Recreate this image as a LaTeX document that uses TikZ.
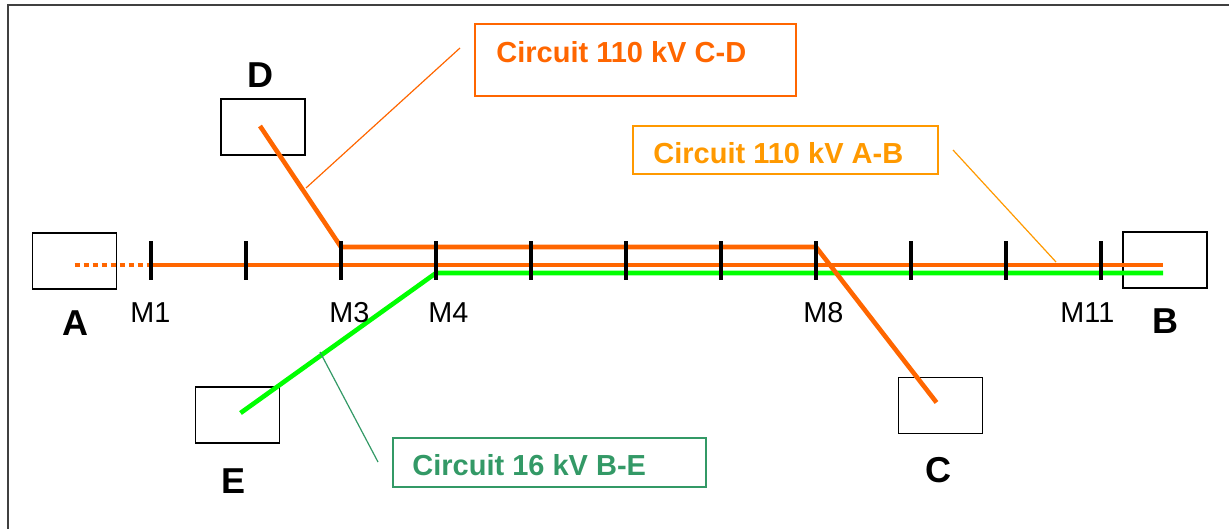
\documentclass[tikz,border=0pt]{standalone}
\usepackage{fontspec}
\setmainfont{Liberation Sans}
\usepackage{tikz}
\usetikzlibrary{positioning, calc}
\definecolor{hvorange}{RGB}{255,102,0}
\definecolor{aborange}{RGB}{255,153,0}
\definecolor{mvgreen}{RGB}{0,255,0}
\definecolor{taggreen}{RGB}{51,153,102}
\tikzstyle{station} = [rectangle, draw=black, line width=0.8pt, minimum width=42pt, minimum height=28pt, inner sep=0pt]
\tikzstyle{letter} = [anchor=base, inner sep=0pt, font=\fontsize{18}{20}\selectfont\bfseries]
\tikzstyle{mastlabel} = [anchor=base west, inner sep=0pt, font=\fontsize{14.4}{16}\selectfont]
\tikzstyle{tagbox} = [rectangle, line width=0.7pt, inner sep=0pt]
\tikzstyle{tagtext} = [anchor=base west, inner sep=0pt, font=\fontsize{14.5}{16}\selectfont\bfseries]
\tikzstyle{hvline} = [line width=2.3pt, draw=hvorange]
\tikzstyle{mvline} = [line width=2.3pt, draw=mvgreen]
\tikzstyle{tick} = [line width=2pt, draw=black]
\tikzstyle{leader} = [line width=0.6pt]

\begin{document}
\begin{tikzpicture}[x=0.5pt, y=-0.5pt]
    \useasboundingbox (0,0) rectangle (1229,529);
    \draw [black!75, line width=0.7pt] (8,529) -- (8,5) -- (1229,5);

    % substations
    \node (boxA) [station] at (74.5,261) {};
    \node (boxB) [station] at (1165,260) {};
    \node (boxC) [station] at (940.5,405.5) {};
    \node (boxD) [station] at (263,127) {};
    \node (boxE) [station] at (237.5,415) {};

    \node (labA) [letter] at (75,335) {A};
    \node (labB) [letter] at (1165,333) {B};
    \node (labC) [letter] at (938,482) {C};
    \node (labD) [letter] at (260,88) {D};
    \node (labE) [letter] at (234,493) {E};

    % masts
    \foreach \i in {1,...,11}
        \coordinate (m\i) at ({56+95*\i},265);
    \coordinate (endA) at (boxA.center |- m1);
    \coordinate (endB) at (1163,265);
    \coordinate (endC) at ($(boxC.center)+(-4,-3)$);
    \coordinate (endD) at ($(boxD.center)+(-3,-1)$);
    \coordinate (endE) at ($(boxE.center)+(3,-2)$);
    \coordinate (j3) at ($(m3)+(0,-18)$);
    \coordinate (j8) at ($(m8)+(0,-18)$);
    \coordinate (g4) at ($(m4)+(0,8)$);
    \coordinate (gB) at ($(endB)+(0,8)$);

    % lines
    \draw [mvline] (endE) -- (g4) -- (gB);
    \draw [hvline] (m1) -- (endB);
    \draw [hvline, dash pattern=on 2.5pt off 2pt] (endA) -- (m1);
    \draw [hvline] (endD) -- (j3) -- (j8) -- (endC);

    \foreach \i in {1,...,11}
        \draw [tick] ($(m\i)+(0,-24)$) -- ($(m\i)+(0,15)$);

    \node (lm1) [mastlabel] at (130,322) {M1};
    \node (lm3) [mastlabel] at (329,322) {M3};
    \node (lm4) [mastlabel] at (428,322) {M4};
    \node (lm8) [mastlabel] at (803,322) {M8};
    \node (lm11) [mastlabel] at (1060,322) {M11};

    % circuit tags
    \node (cdbox) [tagbox, draw=hvorange, minimum width=160.5pt, minimum height=36pt] at (635.5,60) {};
    \node (cdtext) [tagtext, text=hvorange] at (496,62.5) {Circuit 110 kV C-D};
    \node (abbox) [tagbox, draw=aborange, minimum width=152.5pt, minimum height=24pt] at (785.5,150) {};
    \node (abtext) [tagtext, text=aborange] at (653,164) {Circuit 110 kV A-B};
    \node (bebox) [tagbox, draw=taggreen, minimum width=156.5pt, minimum height=24.5pt] at (549.5,462.5) {};
    \node (betext) [tagtext, text=taggreen] at (412,475) {Circuit 16 kV B-E};

    \coordinate (cdtip) at (306,188);
    \coordinate (cdend) at (460,48);
    \coordinate (abtip) at (1056,262);
    \coordinate (abend) at (953,150);
    \coordinate (betip) at (320,352);
    \coordinate (beend) at (378,462);

    \draw [leader, hvorange] (cdtip) -- (cdend);
    \draw [leader, aborange] (abend) -- (abtip);
    \draw [leader, taggreen] (betip) -- (beend);
\end{tikzpicture}
\end{document}
